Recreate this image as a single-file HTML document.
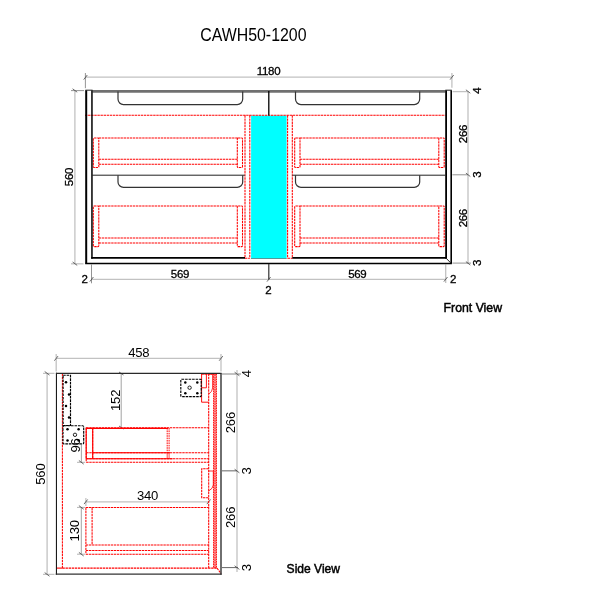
<!DOCTYPE html>
<html lang="en">
<head>
<meta charset="utf-8">
<title>CAWH50-1200</title>
<style>
html,body{margin:0;padding:0;background:#fff;}
body{width:600px;height:600px;overflow:hidden;position:relative;font-family:"Liberation Sans",sans-serif;}
svg{position:absolute;left:0;top:0;display:block;will-change:transform;}
.k{stroke:#000;fill:none;stroke-width:1.3;}
.k1{stroke:#222;fill:none;stroke-width:1;}
.g{stroke:#707070;fill:none;stroke-width:2.6;}
.h{stroke:#333;fill:none;stroke-width:1.2;}
.d{stroke:#c2c2c2;fill:none;stroke-width:1.3;}
.e{stroke:#c2c2c2;fill:none;stroke-width:1.3;}
.ed{stroke:#888;fill:none;stroke-width:0.9;}
.t{stroke:#444;fill:none;stroke-width:0.8;}
.r{stroke:#f00;fill:none;stroke-width:1.05;stroke-dasharray:2.4 0.7;}
.rs{stroke:#f00;fill:none;stroke-width:1.1;}
.b{stroke:#000;fill:none;stroke-width:1.15;stroke-dasharray:2.6 0.9;}
text{font-family:"Liberation Sans",sans-serif;fill:#000;stroke:#000;stroke-width:0.3px;}
.n text{font-size:11.5px;text-anchor:middle;letter-spacing:-0.3px;}
.v text{font-size:13.1px;text-anchor:middle;letter-spacing:-0.2px;stroke-width:0;}
.lbl{font-size:13.3px;stroke-width:0.5px;}
.rb{stroke:#f00;fill:none;stroke-width:0.95;stroke-dasharray:1.6 0.8;}
.s1{stroke:#1a1a1a;fill:none;stroke-width:1.1;}
.s2{stroke:#333;fill:none;stroke-width:1.4;}
</style>
</head>
<body>
<svg width="600" height="600" viewBox="0 0 600 600">
<rect width="600" height="600" fill="#fff"/>

<!-- ============ TITLE ============ -->
<text x="200.2" y="41.2" style="font-size:17.6px;stroke-width:0" textLength="106.3" lengthAdjust="spacingAndGlyphs">CAWH50-1200</text>

<!-- ============ FRONT VIEW ============ -->
<g id="front">
  <!-- dimension lines -->
  <g class="d">
    <path d="M85.5 77.1H451.9"/>
    <path d="M74.9 91V263.5"/>
    <path d="M91.5 279.3H445.7"/>
    <path d="M468 91V263.8"/>
  </g>
  <g class="e">
    <path d="M451.9 73V87.8"/>
    <path d="M71 263.8H83.5"/>
    <path d="M452.6 91.6H468"/>
    <path d="M445.7 264.6V283"/>
  </g>
  <g class="ed">
    <path d="M85.4 73V88.2"/>
    <path d="M71 90.6H84"/>
    <path d="M91.5 264.6V283.3"/>
    <path d="M452.4 174.8H468 M452.4 263.1H471"/>
  </g>
  <g class="t">
    <path d="M83.7 79.6l3.6-4.6 M450.1 79.6l3.6-4.6"/>
    <path d="M72.6 88.8l4.6 3.4 M72.6 262l4.6 3.4"/>
    <path d="M89.8 281.6l3.6-4.6 M443.9 281.6l3.6-4.6 M267 281.6l3.6-4.6"/>
    <path d="M465.9 89.8l4.4 3.4 M465.9 173.1l4.4 3.4 M465.9 261.6l4.4 3.4"/>
  </g>

  <!-- cyan filler -->
  <rect x="251.1" y="115.6" width="35.5" height="142.7" fill="#00ffff"/>

  <!-- red dashed -->
  <g class="r">
    <path d="M85 115.3H445.5"/>
    <path d="M245 115.3V258.3 M249.8 115.3V258.3 M287.6 115.3V258.3 M292.3 115.3V258.3"/>
    <path d="M245 258.3H249.8 M287.6 258.3H292.3"/>
    <!-- drawers left -->
    <path d="M98.8 138H237.3 M98.8 159.2H237.3 M98.8 164.2H237.3"/>
    <rect x="93.3" y="138" width="5.5" height="29.5" rx="0.8"/>
    <rect x="237.3" y="138" width="5.2" height="29.5" rx="0.8"/>
    <path d="M98.8 206H237.3 M98.8 238H237.3 M98.8 243H237.3"/>
    <rect x="93.3" y="206" width="5.5" height="40.6" rx="0.8"/>
    <rect x="237.3" y="206" width="5.2" height="40.6" rx="0.8"/>
    <!-- drawers right -->
    <path d="M300 138H438.8 M300 159.2H438.8 M300 164.2H438.8"/>
    <rect x="294.7" y="138" width="5.3" height="29.5" rx="0.8"/>
    <rect x="438.8" y="138" width="5.4" height="29.5" rx="0.8"/>
    <path d="M300 206H438.8 M300 238H438.8 M300 243H438.8"/>
    <rect x="294.7" y="206" width="5.3" height="40.6" rx="0.8"/>
    <rect x="438.8" y="206" width="5.4" height="40.6" rx="0.8"/>
  </g>

  <!-- carcass -->
  <path class="g" d="M92.4 91.4H445.4"/>
  <path d="M86.2 90.2V263.6" stroke="#000" stroke-width="2" fill="none"/>
  <path d="M451.2 90.2V263.6" stroke="#000" stroke-width="1.6" fill="none"/>
  <path d="M91.95 90.2V258.8" stroke="#000" stroke-width="1.5" fill="none"/>
  <path d="M446.1 90.2V258.8" stroke="#000" stroke-width="1.8" fill="none"/>
  <path d="M91.2 257.9H245 M292.3 257.9H447" stroke="#000" stroke-width="1.8" fill="none"/>
  <path d="M251 258.5H286.7" stroke="#155" stroke-width="0.6" fill="none"/>
  <path d="M85.2 263.4H451.9" stroke="#000" stroke-width="1.5" fill="none"/>
  <path class="k1" d="M85.4 90.2H92.6 M445.3 90.2H451.8"/>
  <path class="k1" d="M446 258.1L451.2 263.4"/>
  <path class="k1" d="M92 175.2H244.8 M292.4 175.2H445.5"/>
  <path class="k" d="M268.8 91V115.5"/>
  <path class="h" d="M268.8 264V279.5"/>

  <!-- handle cut-outs -->
  <g class="h">
    <path d="M118 91.5V99.1A5.5 5.5 0 0 0 123.5 104.6H237.2A5.5 5.5 0 0 0 242.7 99.1V91.5"/>
    <path d="M295.5 91.5V99.1A5.5 5.5 0 0 0 301.0 104.6H414.2A5.5 5.5 0 0 0 419.7 99.1V91.5"/>
    <path d="M118 175.2V181.9A5.5 5.5 0 0 0 123.5 187.4H237.2A5.5 5.5 0 0 0 242.7 181.9V175.2"/>
    <path d="M295.5 175.2V181.9A5.5 5.5 0 0 0 301.0 187.4H414.2A5.5 5.5 0 0 0 419.7 181.9V175.2"/>
  </g>

  <!-- dimension text -->
  <g class="n">
  <text x="268.5" y="75.2">1180</text>
  <text x="180" y="277.7">569</text>
  <text x="357.3" y="277.7">569</text>
  <text x="268.4" y="293.5">2</text>
  <text x="84.5" y="283">2</text>
  <text x="453" y="283">2</text>
  <text transform="translate(72.6 177) rotate(-90)">560</text>
  <text transform="translate(466.8 134) rotate(-90)">266</text>
  <text transform="translate(466.8 218.2) rotate(-90)">266</text>
  <text transform="translate(480.6 90.8) rotate(-90)">4</text>
  <text transform="translate(480.8 174.6) rotate(-90)">3</text>
  <text transform="translate(480.8 263) rotate(-90)">3</text>
  </g>
</g>
<text class="lbl" x="443.6" y="311.8" textLength="58.4" lengthAdjust="spacingAndGlyphs">Front View</text>

<!-- ============ SIDE VIEW ============ -->
<g id="side">
  <g class="d">
    <path d="M56.3 358.3H221"/>
    <path d="M47.1 373.3V574.3"/>
    <path d="M237 370V572"/>
    <path d="M85.8 501.8H208.7"/>
  </g>
  <g class="e">
    <path d="M56.2 354V371.5 M221 354V371.5"/>
    <path d="M43 373.3H54.5 M43 574.4H54.5"/>
    <path d="M222 374H241" stroke-width="2"/>
  </g>
  <g class="ed">
    <path d="M222 470.85H237 M222 567.6H238" stroke="#666" stroke-width="1"/>
    <path d="M121.2 373.8V427.5" stroke="#999"/>
    <path d="M81.4 444.5V462.3" stroke="#999"/>
    <path d="M81.3 507.4V554.2" stroke="#999"/>
    <path d="M77 507.4H85 M77 554.2H85 M77 462.3H85" stroke="#aaa"/>
    <path d="M85.9 498V506" stroke="#aaa"/>
  </g>
  <g class="t">
    <path d="M54.4 360.7l3.6-4.6 M219.2 360.7l3.6-4.6"/>
    <path d="M44.7 371.5l4.8 3.6 M44.7 572.6l4.8 3.6"/>
    <path d="M234.6 372.2l4.8 3.6 M234.6 469.2l4.8 3.6 M234.6 565.8l4.8 3.6"/>
    <path d="M119 372l4.5 3 M119 426l4.5 3"/>
    <path d="M78.9 460.5l4.8 3.6"/>
    <path d="M84 504.1l3.6-4.6 M206.9 504.1l3.6-4.6"/>
    <path d="M78.9 505.6l4.8 3.6 M78.9 552.4l4.8 3.6"/>
  </g>

  <!-- red dashed -->
  <g class="r">
    <path d="M62.4 373.8V568"/>
    <path d="M62.4 568.1H217"/>
    <path d="M217 568.1L221 573.5"/>
    <!-- front panel -->
    <path d="M208.7 373.8V568"/>
    <path d="M201.5 373.9H217"/>
    <!-- upper drawer -->
    <path d="M86.2 427.8H208.7 M86.2 452.8H208.7 M86.2 458.7H208.7 M86.2 462.3H208.7"/>
    <path d="M86.2 427.8V462.3 M92.7 427.8V458.7"/>
    <!-- lower drawer -->
    <path d="M85.9 507.5H208.7 M85.9 544.9H208.7 M85.9 550.4H208.7 M85.9 554.3H208.7"/>
    <path d="M85.9 507.5V554.3 M92.1 507.5V544.9"/>
    <!-- handle profiles -->
    <path d="M208.7 373.9H201.6V402.2H208.7" stroke-dasharray="none" stroke-width="0.95"/>
    <path d="M208.7 468.8H201.7V497.7H208.7"/>
    <path d="M201.6 387.8H206.4V374" stroke-dasharray="none" stroke-width="0.9"/>
  </g>
  <rect x="213.2" y="374" width="3.7" height="194" fill="#f00" fill-opacity="0.3"/>
  <g class="rb">
    <path d="M213.6 373.8V568 M215 374.6V568 M216.4 373.8V568"/>
    <path d="M167.2 428V452.5 M169.1 428V452.5"/>
  </g>
  <g class="rs">
    <path d="M86.2 427.5V459 M92.7 428V459"/>
    <path d="M86.2 428.4H168 M92.7 452.8H170 M86.2 458.7H172.5"/>
    <path d="M167.2 452.5V459 M169.1 452.5V459" stroke-width="0.7"/>
    <path d="M56.5 568.1H62.5"/>
    <path d="M209 374.3H212.6V388Q212.4 391.5 208.7 394.3" stroke-width="0.8"/>
    <path d="M208.7 471H213.3V485Q213 488.5 208.7 491" stroke-width="0.8"/>
  </g>

  <!-- brackets -->
  <g class="b">
    <rect x="63.1" y="375.2" width="7.4" height="50.3"/>
    <rect x="63" y="425.7" width="20.7" height="18.2" rx="1"/>
    <rect x="180.8" y="379.2" width="20.4" height="17.4" rx="0.8"/>
  </g>
  <g fill="#000">
    <circle cx="66" cy="382.2" r="1.25"/><circle cx="69" cy="394.5" r="1.25"/><circle cx="66" cy="406" r="1.25"/><circle cx="69" cy="417.5" r="1.25"/>
    <circle cx="67.5" cy="429.2" r="1.25"/><circle cx="78.6" cy="429.2" r="1.25"/><circle cx="67.5" cy="440.5" r="1.25"/><circle cx="78.6" cy="440.5" r="1.25"/>
    <circle cx="185.3" cy="382.4" r="1.25"/><circle cx="197.3" cy="382.4" r="1.25"/><circle cx="185.3" cy="393.3" r="1.25"/><circle cx="197.3" cy="393.3" r="1.25"/>
  </g>
  <g stroke="#000" stroke-width="0.85" fill="#fff">
    <circle cx="75" cy="434.8" r="1.7"/>
    <circle cx="189.6" cy="387.7" r="1.7"/>
  </g>

  <!-- carcass -->
  <path class="s1" d="M56.45 372.8V574.8"/>
  <path class="s1" d="M55.9 373.4H221.6" style="stroke:#2a2a2a"/>
  <path class="s2" d="M221 373.2V574.8"/>
  <path class="s2" d="M55.7 574.1H221.6"/>

  <!-- text -->
  <g class="v">
  <text x="138.8" y="356.6">458</text>
  <text x="147.5" y="499.9">340</text>
  <text transform="translate(45 474.1) rotate(-90)">560</text>
  <text transform="translate(119.5 400.4) rotate(-90)">152</text>
  <text transform="translate(79.6 445.5) rotate(-90)">96</text>
  <text transform="translate(79.3 530.8) rotate(-90)">130</text>
  <text transform="translate(235.2 422.6) rotate(-90)">266</text>
  <text transform="translate(235.2 517.4) rotate(-90)">266</text>
  <text transform="translate(251 373.8) rotate(-90)">4</text>
  <text transform="translate(251.2 471) rotate(-90)">3</text>
  <text transform="translate(251.2 567.6) rotate(-90)">3</text>
  </g>
</g>
<text class="lbl" x="286.6" y="572.8" textLength="53.4" lengthAdjust="spacingAndGlyphs">Side View</text>
</svg>
</body>
</html>
